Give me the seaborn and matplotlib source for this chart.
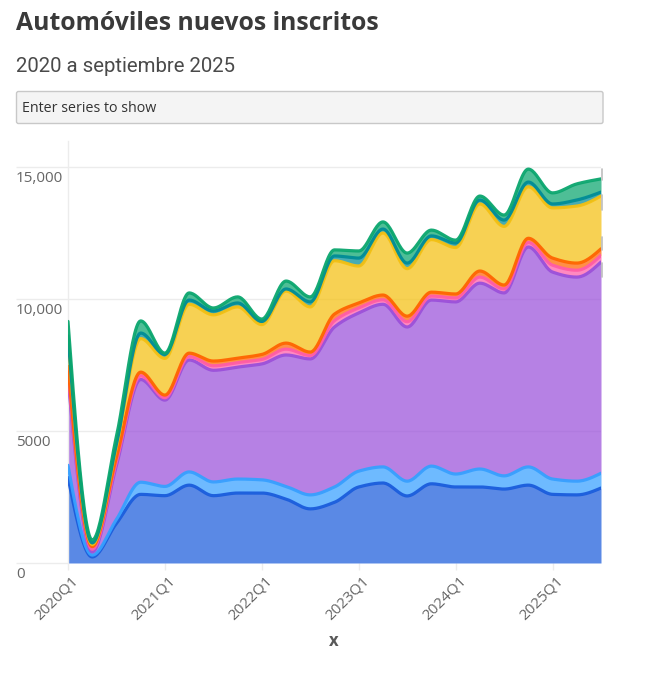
import numpy as np
import pandas as pd
import matplotlib
matplotlib.use("Agg")
import matplotlib.pyplot as plt
from matplotlib.patches import FancyBboxPatch
from matplotlib.transforms import ScaledTranslation
import seaborn as sns

quarters = [f"{y}Q{q}" for y in range(2020, 2026) for q in range(1, 5)][:23]
tick_labels = ["2020Q1", "2021Q1", "2022Q1", "2023Q1", "2024Q1", "2025Q1"]
y_ticks = [0, 5000, 10000, 15000]
y_tick_labels = ["0", "5000", "10,000", "15,000"]

s1 = [3240,230,1500,2600,2550,2950,2550,2650,2650,2420,2050,2300,2880,3030,2540,3000,2880,2880,2800,2950,2600,2580,2840]
s2 = [460,70,150,460,350,500,520,530,500,480,530,580,600,610,560,670,490,680,500,690,580,520,560]
s3 = [3300,120,2050,3890,3270,4240,4230,4240,4390,4980,5150,6060,5990,6160,5840,6290,6520,7040,6930,8330,7840,7730,8000]
s4 = [220,100,150,140,90,130,170,170,170,220,130,240,190,170,200,150,150,230,150,170,260,260,250]
s5 = [230,100,150,140,100,130,180,170,190,230,130,250,190,180,210,150,150,230,150,160,270,270,250]
s6 = [1050,80,400,1270,1390,1850,1750,1940,1130,1970,1710,2020,1400,2350,1800,1990,1760,2540,2220,1950,1900,2160,2000]
s7 = [100,60,100,210,150,160,145,150,120,80,190,180,300,150,210,140,170,150,240,180,150,230,150]
s8 = [550,110,300,460,50,270,115,230,90,300,190,230,270,270,380,220,110,150,190,490,420,610,500]
series = [s1, s2, s3, s4, s5, s6, s7, s8]
names = ["Serie 1", "Serie 2", "Serie 3", "Serie 4", "Serie 5", "Serie 6", "Serie 7", "Serie 8"]
colors = ["#1a5cdc", "#36a0ff", "#9a50da", "#ff5ca8", "#ff6400", "#f5c010", "#008c96", "#0aa66e"]


def monotone(y, n=24):
    """Monotone cubic drawing of a line through its points (as a chart's curve does)."""
    y = np.asarray(y, float)
    d = np.diff(y)
    m = np.zeros_like(y)
    for i in range(1, len(y) - 1):
        if d[i - 1] * d[i] > 0:
            m[i] = 2 * d[i - 1] * d[i] / (d[i - 1] + d[i])
    m[0] = (3 * d[0] - m[1]) / 2
    m[-1] = (3 * d[-1] - m[-2]) / 2
    xs, ys = [], []
    for i in range(len(y) - 1):
        t = np.linspace(0, 1, n, endpoint=False)
        h00 = 2*t**3 - 3*t**2 + 1
        h10 = t**3 - 2*t**2 + t
        h01 = -2*t**3 + 3*t**2
        h11 = t**3 - t**2
        ys.append(h00*y[i] + h10*m[i] + h01*y[i+1] + h11*m[i+1])
        xs.append(i + t)
    return np.r_[np.concatenate(xs), len(y) - 1], np.r_[np.concatenate(ys), y[-1]]


sns.set_theme(style="white")
plt.rcParams["font.family"] = ["Open Sans", "DejaVu Sans"]

W, H = 650, 700
fig = plt.figure(figsize=(W / 100, H / 100), dpi=100, facecolor="white")
L, R, T, B = 68, 601, 141, 563
ax = fig.add_axes([L / W, 1 - B / H, (R - L) / W, (B - T) / H])
ax.set_facecolor("none")

cum = np.cumsum(np.array(series, float), axis=0)
frames = []
prev = None
for name, col, top in zip(names, colors, cum):
    xd, yd = monotone(top)
    base = np.zeros_like(yd) if prev is None else prev
    ax.fill_between(xd, base, yd, color=col, alpha=0.72, lw=0, zorder=2)
    frames.append(pd.DataFrame({"x": xd, "y": yd, "serie": name}))
    prev = yd
df = pd.concat(frames, ignore_index=True)
sns.lineplot(data=df, x="x", y="y", hue="serie", palette=colors, lw=2.3, legend=False,
             estimator=None, ax=ax, zorder=3, alpha=0.95)

ax.set_xlim(0, 22)
ax.set_ylim(0, (B - T) / 0.0264)
for s in ["top", "right", "bottom"]:
    ax.spines[s].set_visible(False)
ax.spines["left"].set_color("#ececec")
ax.spines["left"].set_linewidth(1)
ax.set_xticks([quarters.index(t) for t in tick_labels])
ax.set_xticklabels(tick_labels, rotation=45, ha="right", rotation_mode="anchor",
                   fontsize=11, color="#666666", family="Open Sans")
ax.tick_params(axis="x", length=5, width=1, color="#ececec", pad=3, bottom=True)
shift = ScaledTranslation(3 / 100, 1 / 100, fig.dpi_scale_trans)
for lab in ax.get_xticklabels():
    lab.set_transform(lab.get_transform() + shift)
ax.set_yticks(y_ticks)
ax.set_yticklabels([])
ax.tick_params(axis="y", length=52 * 0.72, width=1, color="#ececec", left=True)
ax.yaxis.grid(True, color="#ececec", lw=1, zorder=1)
ax.xaxis.grid(False)
for v, lab in zip(y_ticks, y_tick_labels):
    ax.annotate(lab, xy=(0, v), xycoords=ax.get_yaxis_transform(), xytext=(-52 * 0.72, -2.6),
                textcoords="offset points", ha="left", va="top", fontsize=11,
                color="#666666", annotation_clip=False)
ax.set_xlabel("")
ax.set_ylabel("")

# clipped label fragments at right edge
for y0, y1 in [(169, 180), (195, 210), (237, 250), (263, 277)]:
    fig.add_artist(plt.Line2D([602 / W, 602 / W], [1 - y0 / H, 1 - y1 / H], color="#bdbdbd", lw=1.2))

fig.text(334 / W, 1 - 641 / H, "x", fontsize=12, fontweight="bold", color="#595959",
         ha="center", va="center")
fig.text(16 / W, 1 - 24 / H, "Automóviles nuevos inscritos", fontsize=17.8, fontweight="bold",
         color="#3a3a3a", ha="left", va="center")
fig.text(16 / W, 1 - 66 / H, "2020 a septiembre 2025", fontsize=14.7, color="#4a4a4a",
         ha="left", va="center", family="Roboto")

box = FancyBboxPatch((16.5 / W, 1 - 123.5 / H), (603 - 16.5) / W, 32 / H,
                     boxstyle="round,pad=0,rounding_size=0.003", transform=fig.transFigure,
                     facecolor="#f4f4f4", edgecolor="#c8c8c8", lw=1)
fig.add_artist(box)
fig.text(22 / W, 1 - 108.5 / H, "Enter series to show", fontsize=10.3, color="#333333",
         ha="left", va="center")

fig.savefig("out.png", dpi=100, facecolor="white")
